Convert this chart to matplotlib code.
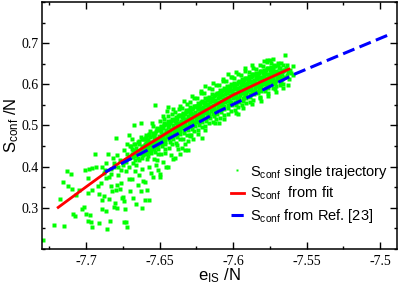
import matplotlib
matplotlib.use("Agg")
import matplotlib.pyplot as plt
from matplotlib.ticker import MultipleLocator, FormatStrFormatter

plt.rcParams['font.family'] = ['Liberation Sans', 'DejaVu Sans']
plt.rcParams['mathtext.fontset'] = 'custom'
plt.rcParams['mathtext.rm'] = 'Liberation Sans'
plt.rcParams['mathtext.default'] = 'regular'
plt.rcParams['axes.unicode_minus'] = False

# S_conf vs e_IS, single trajectory
traj_sparse = [
    (-7.7295, 0.221), (-7.7216, 0.259), (-7.7153, 0.256), (-7.718, 0.322), (-7.716, 0.362),
    (-7.7133, 0.389), (-7.710, 0.381), (-7.7126, 0.354), (-7.7097, 0.346), (-7.7066, 0.332),
    (-7.7086, 0.285), (-7.7077, 0.281), (-7.703, 0.297), (-7.7002, 0.285), (-7.699, 0.267),
    (-7.7014, 0.302), (-7.6975, 0.283), (-7.6968, 0.265), (-7.696, 0.253), (-7.6985, 0.336),
    (-7.6957, 0.344), (-7.698, 0.394), (-7.6957, 0.397), (-7.693, 0.399), (-7.699, 0.373),
    (-7.694, 0.430), (-7.701, 0.393), (-7.705, 0.344), (-7.6917, 0.352), (-7.690, 0.360),
    (-7.6912, 0.262), (-7.691, 0.334), (-7.6856, 0.249), (-7.684, 0.269), (-7.689, 0.297),
    (-7.681, 0.303), (-7.6793, 0.299), (-7.6867, 0.373), (-7.6845, 0.376), (-7.6833, 0.354),
    (-7.6826, 0.340), (-7.6788, 0.356), (-7.680, 0.344), (-7.689, 0.320), (-7.6878, 0.328),
    (-7.6804, 0.312), (-7.6894, 0.400), (-7.6867, 0.409), (-7.6845, 0.322), (-7.688, 0.385),
    (-7.683, 0.395), (-7.681, 0.410), (-7.6865, 0.293), (-7.682, 0.420), (-7.685, 0.430),
    (-7.680, 0.470), (-7.687, 0.392), (-7.683, 0.383), (-7.681, 0.398),
    (-7.675, 0.327), (-7.674, 0.317), (-7.6735, 0.298), (-7.674, 0.266), (-7.672, 0.254),
    (-7.678, 0.380), (-7.676, 0.392), (-7.675, 0.405), (-7.673, 0.412), (-7.671, 0.420),
    (-7.677, 0.415), (-7.672, 0.430), (-7.679, 0.428), (-7.674, 0.440), (-7.670, 0.450),
    (-7.676, 0.360), (-7.671, 0.370), (-7.673, 0.390), (-7.678, 0.400), (-7.671, 0.400),
    (-7.677, 0.345), (-7.670, 0.340), (-7.672, 0.455), (-7.6705, 0.478), (-7.6757, 0.325),
    (-7.673, 0.265), (-7.6676, 0.502), (-7.669, 0.466), (-7.667, 0.455), (-7.665, 0.460),
    (-7.663, 0.472), (-7.661, 0.468), (-7.668, 0.440), (-7.666, 0.445), (-7.664, 0.437),
    (-7.662, 0.450), (-7.660, 0.455), (-7.669, 0.430), (-7.667, 0.425), (-7.665, 0.420),
    (-7.663, 0.430), (-7.661, 0.440), (-7.668, 0.410), (-7.666, 0.405), (-7.664, 0.415),
    (-7.662, 0.420), (-7.660, 0.430), (-7.667, 0.390), (-7.664, 0.380), (-7.662, 0.395),
    (-7.669, 0.370), (-7.665, 0.355), (-7.661, 0.365), (-7.663, 0.340), (-7.668, 0.325),
    (-7.666, 0.310), (-7.662, 0.300), (-7.660, 0.320), (-7.6588, 0.344), (-7.657, 0.320),
    (-7.6625, 0.505), (-7.6327, 0.441), (-7.6394, 0.421), (-7.644, 0.400), (-7.6495, 0.376),
    (-7.6293, 0.474), (-7.629, 0.478), (-7.601, 0.619),
]

traj_core = [
    (-7.6595, 0.478), (-7.6562, 0.471), (-7.6580, 0.465), (-7.6556, 0.461), (-7.6590, 0.457),
    (-7.6570, 0.453), (-7.6585, 0.449), (-7.6553, 0.446), (-7.6593, 0.442), (-7.6572, 0.438),
    (-7.6560, 0.432), (-7.6582, 0.425), (-7.6567, 0.486), (-7.6591, 0.470), (-7.6552, 0.452),
    (-7.6577, 0.459), (-7.6564, 0.440), (-7.6588, 0.418), (-7.6574, 0.400), (-7.6558, 0.385),
    (-7.6597, 0.362),
    (-7.6545, 0.498), (-7.6512, 0.489), (-7.6530, 0.481), (-7.6506, 0.475), (-7.6540, 0.470),
    (-7.6520, 0.466), (-7.6535, 0.461), (-7.6503, 0.457), (-7.6543, 0.452), (-7.6522, 0.448),
    (-7.6510, 0.442), (-7.6532, 0.436), (-7.6517, 0.493), (-7.6541, 0.478), (-7.6502, 0.464),
    (-7.6527, 0.455), (-7.6514, 0.430), (-7.6538, 0.418), (-7.6524, 0.405), (-7.6508, 0.392),
    (-7.6529, 0.550), (-7.6548, 0.375),
    (-7.6495, 0.510), (-7.6462, 0.503), (-7.6480, 0.495), (-7.6456, 0.490), (-7.6490, 0.485),
    (-7.6470, 0.480), (-7.6485, 0.476), (-7.6453, 0.471), (-7.6493, 0.466), (-7.6472, 0.462),
    (-7.6460, 0.456), (-7.6482, 0.449), (-7.6467, 0.515), (-7.6491, 0.499), (-7.6452, 0.478),
    (-7.6477, 0.469), (-7.6464, 0.442), (-7.6488, 0.430), (-7.6474, 0.412), (-7.6458, 0.398),
    (-7.6497, 0.383),
    (-7.6445, 0.522), (-7.6412, 0.514), (-7.6430, 0.506), (-7.6406, 0.501), (-7.6440, 0.496),
    (-7.6420, 0.492), (-7.6435, 0.487), (-7.6403, 0.483), (-7.6443, 0.478), (-7.6422, 0.473),
    (-7.6410, 0.468), (-7.6432, 0.461), (-7.6417, 0.527), (-7.6441, 0.510), (-7.6402, 0.490),
    (-7.6427, 0.481), (-7.6414, 0.454), (-7.6438, 0.445), (-7.6424, 0.428), (-7.6408, 0.418),
    (-7.6447, 0.536),
    (-7.6395, 0.532), (-7.6362, 0.525), (-7.6380, 0.517), (-7.6356, 0.512), (-7.6390, 0.507),
    (-7.6370, 0.502), (-7.6385, 0.498), (-7.6353, 0.494), (-7.6393, 0.489), (-7.6372, 0.484),
    (-7.6360, 0.479), (-7.6382, 0.472), (-7.6367, 0.540), (-7.6391, 0.521), (-7.6352, 0.500),
    (-7.6377, 0.491), (-7.6364, 0.466), (-7.6388, 0.457), (-7.6374, 0.443), (-7.6358, 0.430),
    (-7.6397, 0.512), (-7.6368, 0.505),
    (-7.6345, 0.543), (-7.6312, 0.536), (-7.6330, 0.528), (-7.6306, 0.522), (-7.6340, 0.518),
    (-7.6320, 0.513), (-7.6335, 0.508), (-7.6303, 0.504), (-7.6343, 0.499), (-7.6322, 0.494),
    (-7.6310, 0.489), (-7.6332, 0.482), (-7.6317, 0.552), (-7.6341, 0.531), (-7.6302, 0.511),
    (-7.6327, 0.501), (-7.6314, 0.476), (-7.6338, 0.468), (-7.6324, 0.455), (-7.6308, 0.440),
    (-7.6347, 0.520), (-7.6318, 0.515),
    (-7.6295, 0.556), (-7.6262, 0.548), (-7.6280, 0.540), (-7.6256, 0.534), (-7.6290, 0.529),
    (-7.6270, 0.524), (-7.6285, 0.519), (-7.6253, 0.515), (-7.6293, 0.510), (-7.6272, 0.505),
    (-7.6260, 0.499), (-7.6282, 0.492), (-7.6267, 0.566), (-7.6291, 0.544), (-7.6252, 0.521),
    (-7.6277, 0.512), (-7.6264, 0.486), (-7.6288, 0.478), (-7.6274, 0.468), (-7.6258, 0.530),
    (-7.6297, 0.537), (-7.6268, 0.527),
    (-7.6245, 0.567), (-7.6212, 0.559), (-7.6230, 0.551), (-7.6206, 0.545), (-7.6240, 0.540),
    (-7.6220, 0.535), (-7.6235, 0.530), (-7.6203, 0.526), (-7.6243, 0.520), (-7.6222, 0.515),
    (-7.6210, 0.509), (-7.6232, 0.502), (-7.6217, 0.578), (-7.6241, 0.555), (-7.6202, 0.532),
    (-7.6227, 0.523), (-7.6214, 0.496), (-7.6238, 0.488), (-7.6224, 0.543), (-7.6208, 0.538),
    (-7.6247, 0.548), (-7.6218, 0.512),
    (-7.6195, 0.578), (-7.6162, 0.570), (-7.6180, 0.562), (-7.6156, 0.556), (-7.6190, 0.550),
    (-7.6170, 0.545), (-7.6185, 0.540), (-7.6153, 0.536), (-7.6193, 0.530), (-7.6172, 0.525),
    (-7.6160, 0.519), (-7.6182, 0.512), (-7.6167, 0.590), (-7.6191, 0.566), (-7.6152, 0.542),
    (-7.6177, 0.533), (-7.6164, 0.506), (-7.6188, 0.498), (-7.6174, 0.553), (-7.6158, 0.548),
    (-7.6197, 0.558), (-7.6168, 0.522),
    (-7.6145, 0.588), (-7.6112, 0.580), (-7.6130, 0.572), (-7.6106, 0.566), (-7.6140, 0.560),
    (-7.6120, 0.555), (-7.6135, 0.550), (-7.6103, 0.546), (-7.6143, 0.540), (-7.6122, 0.535),
    (-7.6110, 0.529), (-7.6132, 0.522), (-7.6117, 0.598), (-7.6141, 0.576), (-7.6102, 0.552),
    (-7.6127, 0.543), (-7.6114, 0.516), (-7.6138, 0.508), (-7.6124, 0.563), (-7.6108, 0.558),
    (-7.6147, 0.568), (-7.6118, 0.532),
    (-7.6095, 0.598), (-7.6062, 0.590), (-7.6080, 0.582), (-7.6056, 0.576), (-7.6090, 0.570),
    (-7.6070, 0.565), (-7.6085, 0.560), (-7.6053, 0.556), (-7.6093, 0.550), (-7.6072, 0.545),
    (-7.6060, 0.539), (-7.6082, 0.532), (-7.6067, 0.607), (-7.6091, 0.586), (-7.6052, 0.562),
    (-7.6077, 0.553), (-7.6064, 0.526), (-7.6088, 0.518), (-7.6074, 0.573), (-7.6058, 0.568),
    (-7.6097, 0.578), (-7.6068, 0.542),
    (-7.6045, 0.607), (-7.6012, 0.600), (-7.6030, 0.592), (-7.6006, 0.586), (-7.6040, 0.580),
    (-7.6020, 0.575), (-7.6035, 0.570), (-7.6003, 0.566), (-7.6043, 0.560), (-7.6022, 0.555),
    (-7.6010, 0.549), (-7.6032, 0.542), (-7.6017, 0.617), (-7.6041, 0.596), (-7.6002, 0.572),
    (-7.6027, 0.563), (-7.6014, 0.535), (-7.6038, 0.527), (-7.6024, 0.583), (-7.6008, 0.578),
    (-7.6047, 0.588), (-7.6018, 0.552),
    (-7.5995, 0.615), (-7.5962, 0.608), (-7.5980, 0.600), (-7.5956, 0.594), (-7.5990, 0.589),
    (-7.5970, 0.584), (-7.5985, 0.579), (-7.5953, 0.575), (-7.5993, 0.569), (-7.5972, 0.564),
    (-7.5960, 0.558), (-7.5982, 0.551), (-7.5967, 0.624), (-7.5991, 0.604), (-7.5952, 0.581),
    (-7.5977, 0.572), (-7.5964, 0.545), (-7.5988, 0.538), (-7.5974, 0.592), (-7.5958, 0.587),
    (-7.5997, 0.597), (-7.5968, 0.561),
    (-7.5945, 0.623), (-7.5912, 0.616), (-7.5930, 0.608), (-7.5906, 0.603), (-7.5940, 0.598),
    (-7.5920, 0.593), (-7.5935, 0.588), (-7.5903, 0.584), (-7.5943, 0.578), (-7.5922, 0.573),
    (-7.5910, 0.567), (-7.5932, 0.560), (-7.5917, 0.632), (-7.5941, 0.612), (-7.5902, 0.590),
    (-7.5927, 0.581), (-7.5914, 0.555), (-7.5938, 0.550), (-7.5924, 0.601), (-7.5908, 0.596),
    (-7.5947, 0.606), (-7.5918, 0.570),
    (-7.5895, 0.631), (-7.5862, 0.624), (-7.5880, 0.617), (-7.5856, 0.611), (-7.5890, 0.606),
    (-7.5870, 0.601), (-7.5885, 0.596), (-7.5853, 0.592), (-7.5893, 0.587), (-7.5872, 0.582),
    (-7.5860, 0.576), (-7.5882, 0.569), (-7.5867, 0.640), (-7.5891, 0.620), (-7.5852, 0.598),
    (-7.5877, 0.589), (-7.5864, 0.563), (-7.5888, 0.558), (-7.5874, 0.609), (-7.5858, 0.604),
    (-7.5897, 0.614), (-7.5868, 0.579),
    (-7.5845, 0.638), (-7.5812, 0.632), (-7.5830, 0.625), (-7.5806, 0.619), (-7.5840, 0.614),
    (-7.5820, 0.609), (-7.5835, 0.604), (-7.5803, 0.600), (-7.5843, 0.595), (-7.5822, 0.590),
    (-7.5810, 0.584), (-7.5832, 0.578), (-7.5817, 0.647), (-7.5841, 0.628), (-7.5802, 0.606),
    (-7.5827, 0.597), (-7.5814, 0.570), (-7.5820, 0.567), (-7.5824, 0.617), (-7.5808, 0.612),
    (-7.5847, 0.621), (-7.5818, 0.587),
    (-7.5795, 0.645), (-7.5762, 0.639), (-7.5780, 0.632), (-7.5756, 0.626), (-7.5790, 0.621),
    (-7.5770, 0.616), (-7.5785, 0.611), (-7.5753, 0.607), (-7.5793, 0.602), (-7.5772, 0.597),
    (-7.5760, 0.591), (-7.5782, 0.585), (-7.5767, 0.654), (-7.5791, 0.636), (-7.5752, 0.614),
    (-7.5777, 0.605), (-7.5764, 0.579), (-7.5770, 0.660), (-7.5774, 0.624), (-7.5758, 0.619),
    (-7.5797, 0.629), (-7.5768, 0.594),
    (-7.5745, 0.651), (-7.5712, 0.645), (-7.5730, 0.638), (-7.5706, 0.632), (-7.5740, 0.627),
    (-7.5720, 0.622), (-7.5735, 0.617), (-7.5703, 0.613), (-7.5743, 0.608), (-7.5722, 0.603),
    (-7.5710, 0.597), (-7.5732, 0.591), (-7.5752, 0.660), (-7.5741, 0.642), (-7.5702, 0.620),
    (-7.5727, 0.611), (-7.5714, 0.588), (-7.5724, 0.630),
    (-7.5695, 0.652), (-7.5662, 0.646), (-7.5680, 0.640), (-7.5656, 0.635), (-7.5690, 0.630),
    (-7.5670, 0.626), (-7.5685, 0.621), (-7.5653, 0.617), (-7.5693, 0.612), (-7.5672, 0.606),
    (-7.5660, 0.600), (-7.5682, 0.599), (-7.5667, 0.633), (-7.5650, 0.672), (-7.5677, 0.615),
    (-7.5640, 0.640), (-7.5625, 0.630), (-7.5632, 0.622), (-7.5618, 0.612), (-7.5624, 0.599),
    (-7.5595, 0.645), (-7.5595, 0.623), (-7.5610, 0.635), (-7.5635, 0.648), (-7.5603, 0.628),
]

# second pass over the dense part of the cloud
traj_dense = [
    (-7.6673, 0.456), (-7.6689, 0.444), (-7.6659, 0.436), (-7.6681, 0.424), (-7.6666, 0.416),
    (-7.6693, 0.451), (-7.6677, 0.431), (-7.6654, 0.439),
    (-7.6623, 0.468), (-7.6639, 0.456), (-7.6609, 0.448), (-7.6631, 0.436), (-7.6616, 0.428),
    (-7.6643, 0.463), (-7.6627, 0.443), (-7.6604, 0.451),
    (-7.6573, 0.476), (-7.6589, 0.464), (-7.6559, 0.456), (-7.6581, 0.444), (-7.6566, 0.436),
    (-7.6593, 0.471), (-7.6577, 0.451), (-7.6554, 0.459), (-7.6586, 0.432), (-7.6569, 0.480),
    (-7.6561, 0.441), (-7.6596, 0.467),
    (-7.6523, 0.487), (-7.6539, 0.475), (-7.6509, 0.467), (-7.6531, 0.455), (-7.6516, 0.447),
    (-7.6543, 0.482), (-7.6527, 0.462), (-7.6504, 0.470), (-7.6536, 0.443), (-7.6519, 0.491),
    (-7.6511, 0.452), (-7.6546, 0.478),
    (-7.6473, 0.501), (-7.6489, 0.489), (-7.6459, 0.481), (-7.6481, 0.469), (-7.6466, 0.461),
    (-7.6493, 0.496), (-7.6477, 0.476), (-7.6454, 0.484), (-7.6486, 0.457), (-7.6469, 0.505),
    (-7.6461, 0.466), (-7.6496, 0.492),
    (-7.6423, 0.512), (-7.6439, 0.500), (-7.6409, 0.492), (-7.6431, 0.480), (-7.6416, 0.472),
    (-7.6443, 0.507), (-7.6427, 0.487), (-7.6404, 0.495), (-7.6436, 0.468), (-7.6419, 0.516),
    (-7.6411, 0.477), (-7.6446, 0.503),
    (-7.6373, 0.522), (-7.6389, 0.510), (-7.6359, 0.502), (-7.6381, 0.490), (-7.6366, 0.482),
    (-7.6393, 0.517), (-7.6377, 0.497), (-7.6354, 0.505), (-7.6386, 0.478), (-7.6369, 0.526),
    (-7.6361, 0.487), (-7.6396, 0.513),
    (-7.6323, 0.533), (-7.6339, 0.521), (-7.6309, 0.513), (-7.6331, 0.501), (-7.6316, 0.493),
    (-7.6343, 0.528), (-7.6327, 0.508), (-7.6304, 0.516), (-7.6336, 0.489), (-7.6319, 0.537),
    (-7.6311, 0.498), (-7.6346, 0.524),
    (-7.6273, 0.543), (-7.6289, 0.531), (-7.6259, 0.523), (-7.6281, 0.511), (-7.6266, 0.503),
    (-7.6293, 0.538), (-7.6277, 0.518), (-7.6254, 0.526), (-7.6286, 0.499), (-7.6269, 0.547),
    (-7.6261, 0.508), (-7.6296, 0.534),
    (-7.6223, 0.553), (-7.6239, 0.541), (-7.6209, 0.533), (-7.6231, 0.521), (-7.6216, 0.513),
    (-7.6243, 0.548), (-7.6227, 0.528), (-7.6204, 0.536), (-7.6236, 0.509), (-7.6219, 0.557),
    (-7.6211, 0.518), (-7.6246, 0.544),
    (-7.6173, 0.563), (-7.6189, 0.551), (-7.6159, 0.543), (-7.6181, 0.531), (-7.6166, 0.523),
    (-7.6193, 0.558), (-7.6177, 0.538), (-7.6154, 0.546), (-7.6186, 0.519), (-7.6169, 0.567),
    (-7.6161, 0.528), (-7.6196, 0.554),
    (-7.6123, 0.573), (-7.6139, 0.561), (-7.6109, 0.553), (-7.6131, 0.541), (-7.6116, 0.533),
    (-7.6143, 0.568), (-7.6127, 0.548), (-7.6104, 0.556), (-7.6136, 0.529), (-7.6119, 0.577),
    (-7.6111, 0.538), (-7.6146, 0.564),
    (-7.6073, 0.583), (-7.6089, 0.571), (-7.6059, 0.563), (-7.6081, 0.551), (-7.6066, 0.543),
    (-7.6093, 0.578), (-7.6077, 0.558), (-7.6054, 0.566), (-7.6086, 0.539), (-7.6069, 0.587),
    (-7.6061, 0.548), (-7.6096, 0.574),
    (-7.6023, 0.593), (-7.6039, 0.581), (-7.6009, 0.573), (-7.6031, 0.561), (-7.6016, 0.553),
    (-7.6043, 0.588), (-7.6027, 0.568), (-7.6004, 0.576), (-7.6036, 0.549), (-7.6019, 0.597),
    (-7.6011, 0.558), (-7.6046, 0.584),
    (-7.5973, 0.602), (-7.5989, 0.590), (-7.5959, 0.582), (-7.5981, 0.570), (-7.5966, 0.562),
    (-7.5993, 0.597), (-7.5977, 0.577), (-7.5954, 0.585), (-7.5986, 0.558), (-7.5969, 0.606),
    (-7.5961, 0.567), (-7.5996, 0.593),
    (-7.5923, 0.611), (-7.5939, 0.599), (-7.5909, 0.591), (-7.5931, 0.579), (-7.5916, 0.571),
    (-7.5943, 0.606), (-7.5927, 0.586), (-7.5904, 0.594), (-7.5936, 0.567), (-7.5919, 0.615),
    (-7.5911, 0.576), (-7.5946, 0.602),
    (-7.5873, 0.620), (-7.5889, 0.608), (-7.5859, 0.600), (-7.5881, 0.588), (-7.5866, 0.580),
    (-7.5893, 0.615), (-7.5877, 0.595), (-7.5854, 0.603), (-7.5886, 0.576), (-7.5869, 0.624),
    (-7.5861, 0.585), (-7.5896, 0.611),
    (-7.5823, 0.628), (-7.5839, 0.616), (-7.5809, 0.608), (-7.5831, 0.596), (-7.5816, 0.588),
    (-7.5843, 0.623), (-7.5827, 0.603), (-7.5804, 0.611), (-7.5836, 0.584), (-7.5819, 0.632),
    (-7.5811, 0.593), (-7.5846, 0.619),
    (-7.5773, 0.636), (-7.5789, 0.624), (-7.5759, 0.616), (-7.5781, 0.604), (-7.5766, 0.596),
    (-7.5793, 0.631), (-7.5777, 0.611), (-7.5754, 0.619), (-7.5786, 0.592), (-7.5769, 0.640),
    (-7.5761, 0.601), (-7.5796, 0.627),
    (-7.5723, 0.644), (-7.5739, 0.632), (-7.5709, 0.624), (-7.5731, 0.612), (-7.5716, 0.604),
    (-7.5743, 0.639), (-7.5727, 0.619), (-7.5704, 0.627), (-7.5736, 0.600), (-7.5719, 0.648),
    (-7.5711, 0.609), (-7.5746, 0.635),
    (-7.5673, 0.652), (-7.5689, 0.640), (-7.5659, 0.632), (-7.5681, 0.620), (-7.5666, 0.612),
    (-7.5693, 0.647), (-7.5677, 0.627), (-7.5654, 0.635),
]

# stray points just outside the dense band
traj_edge = [
    (-7.655, 0.505), (-7.648, 0.522), (-7.641, 0.540), (-7.636, 0.548), (-7.628, 0.572),
    (-7.622, 0.585), (-7.614, 0.603), (-7.607, 0.612), (-7.598, 0.630), (-7.592, 0.640),
    (-7.587, 0.648), (-7.579, 0.656), (-7.573, 0.662), (-7.6445, 0.545), (-7.6335, 0.560),
    (-7.619, 0.596), (-7.6035, 0.625),
    (-7.652, 0.415), (-7.646, 0.432), (-7.638, 0.452), (-7.631, 0.462), (-7.624, 0.480),
    (-7.619, 0.490), (-7.612, 0.505), (-7.606, 0.515), (-7.598, 0.530), (-7.593, 0.542),
    (-7.587, 0.552), (-7.581, 0.560), (-7.576, 0.572), (-7.571, 0.582), (-7.566, 0.592),
    (-7.635, 0.445), (-7.6215, 0.470), (-7.6095, 0.505), (-7.5965, 0.528),
]

# fit curve
fit_e = [-7.719, -7.70, -7.68, -7.66, -7.64, -7.62, -7.60, -7.58, -7.562]
fit_s = [0.301, 0.351, 0.403, 0.449, 0.493, 0.534, 0.574, 0.608, 0.637]

# curve from Ref. [23]
ref_e = [-7.687, -7.66, -7.637, -7.61, -7.585, -7.558, -7.53, -7.495]
ref_s = [0.387, 0.437, 0.481, 0.534, 0.577, 0.625, 0.667, 0.719]

pts = traj_sparse + traj_core + traj_dense + traj_edge
pe = [p[0] for p in pts]
ps = [p[1] for p in pts]

fig = plt.figure(figsize=(3.99, 2.85), dpi=100)
ax = fig.add_axes([0.1053, 0.1263, 0.8897, 0.8667])

ax.plot(pe, ps, ls='none', marker='s', ms=2.2, mec='none', color='#00ff00',
        label='S$_{conf}$ single trajectory')
ax.plot(fit_e, fit_s, color='#ff0000', lw=2.0, label='S$_{conf}$  from fit')
ax.plot(ref_e, ref_s, color='#0000ff', lw=2.2, dashes=(4, 1.8),
        label='S$_{conf}$ from Ref. [23]')

ax.set_xlim(-7.730, -7.4885)
ax.set_ylim(0.20, 0.80)
ax.set_xticks([-7.7, -7.65, -7.6, -7.55, -7.5])
ax.set_yticks([0.3, 0.4, 0.5, 0.6, 0.7])
ax.xaxis.set_minor_locator(MultipleLocator(0.025))
ax.yaxis.set_minor_locator(MultipleLocator(0.05))
ax.xaxis.set_major_formatter(FormatStrFormatter('%g'))
ax.yaxis.set_major_formatter(FormatStrFormatter('%g'))
ax.tick_params(which='both', direction='in', top=True, right=True, width=1.0)
ax.tick_params(which='major', length=5, labelsize=10)
ax.tick_params(axis='x', which='major', pad=4)
ax.tick_params(axis='y', which='major', pad=2.5)
ax.tick_params(which='minor', length=2.5)
for lab in ax.get_xticklabels() + ax.get_yticklabels():
    lab.set_fontfamily('Liberation Serif')
for sp in ax.spines.values():
    sp.set_linewidth(1.1)

ax.set_xlabel('e$_{IS}$ /N', fontsize=12)
ax.set_ylabel('S$_{conf}$ /N', fontsize=12)
ax.xaxis.set_label_coords(0.5, -0.07)
ax.yaxis.set_label_coords(-0.06, 0.5)

leg = ax.legend(loc='upper left', bbox_to_anchor=(0.532, 0.35), frameon=False,
                fontsize=10.5, handlelength=0.9, handletextpad=0.42,
                labelspacing=0.3, markerscale=0.8, borderaxespad=0,
                borderpad=0)

fig.savefig('out.png', dpi=100)
